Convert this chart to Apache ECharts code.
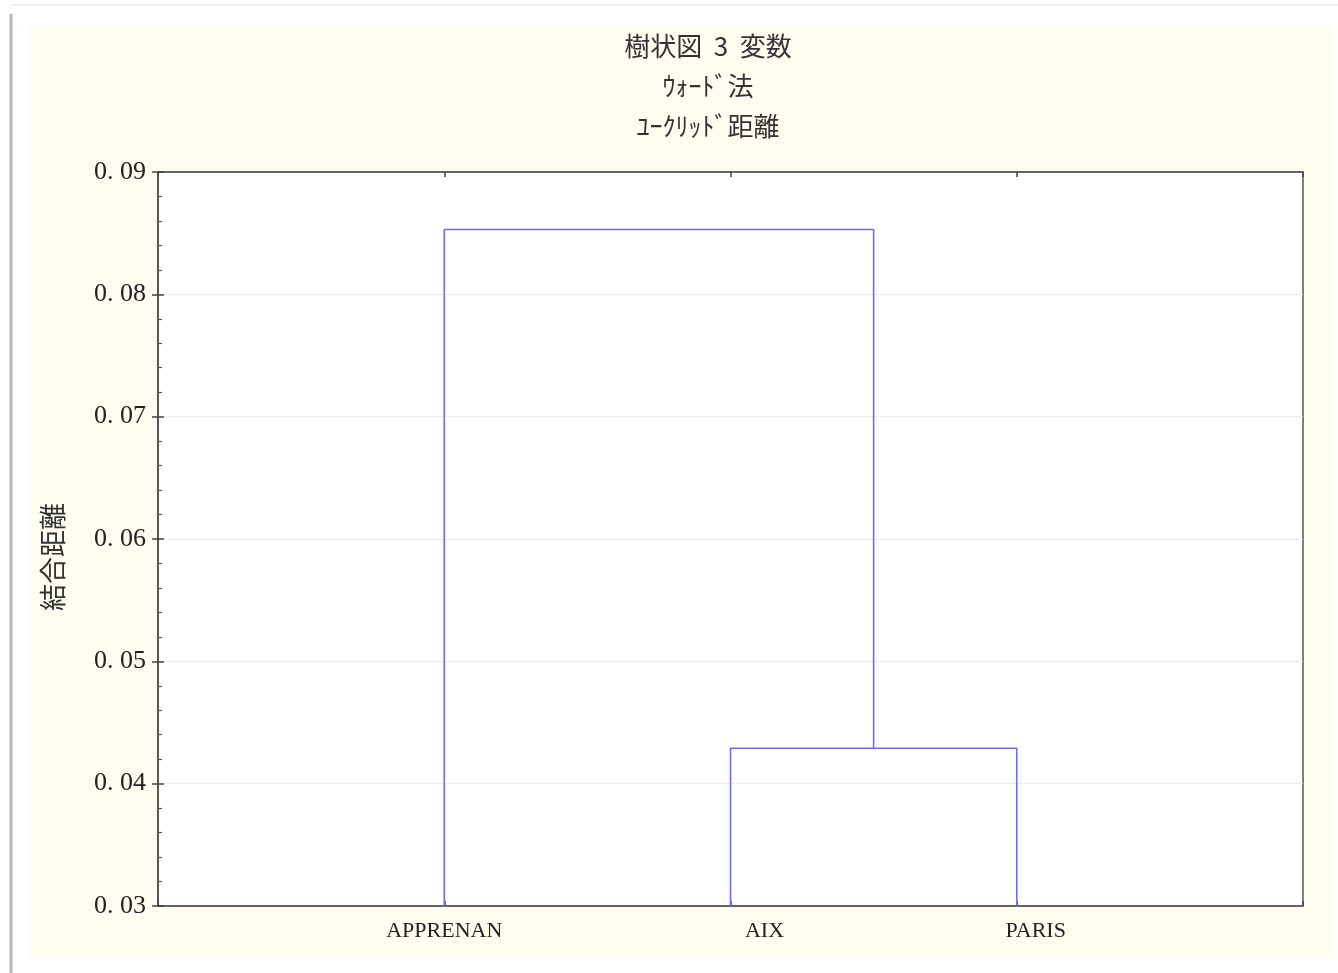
<!DOCTYPE html>
<html>
<head>
<meta charset="utf-8">
<script src="https://cdn.jsdelivr.net/npm/echarts@6/dist/echarts.min.js"></script>
<style>
html,body{margin:0;padding:0;background:#fff;}
#c{width:1338px;height:973px;}
</style>
</head>
<body>
<div id="c"></div>
<script>
// ---- data ----
const titleLines = ['樹状図  3  変数', 'ｳｫｰﾄﾞ法', 'ﾕｰｸﾘｯﾄﾞ距離'];
const yAxisName = '結合距離';
const leaves = ['APPRENAN', 'AIX', 'PARIS'];
const leafPositions = [1, 2, 3];
// merges: left member, right member (leaf name or '#k' for merge k), linkage height
const mergeLeft = ['AIX', 'APPRENAN'];
const mergeRight = ['PARIS', '#0'];
const mergeHeight = [0.0429, 0.0853];
const yTicks = [0.03, 0.04, 0.05, 0.06, 0.07, 0.08, 0.09];

// ---- build dendrogram segments ----
const yMin = yTicks[0], yMax = yTicks[yTicks.length - 1];
const nodePos = [], nodeH = [];
function resolve(m) {
  if (m.charAt(0) === '#') { const k = +m.slice(1); return [nodePos[k], nodeH[k]]; }
  const i = leaves.indexOf(m); return [leafPositions[i], yMin];
}
const series = [];
for (let k = 0; k < mergeHeight.length; k++) {
  const [xl, hl] = resolve(mergeLeft[k]);
  const [xr, hr] = resolve(mergeRight[k]);
  const h = mergeHeight[k];
  nodePos.push((xl + xr) / 2); nodeH.push(h);
  series.push({
    type: 'line', symbol: 'none', animation: false, silent: true,
    lineStyle: { color: '#6a6aff', width: 1.6 },
    data: [[xl, hl], [xl, h], [xr, h], [xr, hr]],
    z: 5
  });
}

const labelRich = { a: { padding: [0, 0, 0, 0] }, b: { padding: [0, 0, 0, 68] }, c: { padding: [0, 0, 0, 38] } };
const richKeys = ['a', 'b', 'c'];

const chart = echarts.init(document.getElementById('c'));
chart.setOption({
  backgroundColor: '#ffffff',
  animation: false,
  graphic: [
    { type: 'rect', shape: { x: 29, y: 25, width: 1304, height: 933 }, style: { fill: '#fffcf0' }, z: -10, silent: true },
    { type: 'line', shape: { x1: 11, y1: 14, x2: 11, y2: 973 }, style: { stroke: '#b8b8b8', lineWidth: 3 }, z: -9, silent: true },
    { type: 'line', shape: { x1: 11, y1: 5, x2: 1338, y2: 5 }, style: { stroke: '#eeeeee', lineWidth: 2 }, z: -9, silent: true }
  ],
  title: {
    text: titleLines.join('\n'),
    left: 703, top: 21, textAlign: 'center',
    textStyle: { fontFamily: 'Noto Sans CJK JP', fontSize: 26, fontWeight: 'normal', color: '#333', lineHeight: 40 }
  },
  grid: { left: 158, right: 35, top: 172, bottom: 67, show: true, backgroundColor: '#ffffff', borderColor: '#555', borderWidth: 1.5 },
  xAxis: [
    {
      type: 'value', min: 0, max: 4, interval: 1, position: 'bottom',
      axisLine: { show: true, lineStyle: { color: '#555', width: 1.5 } },
      axisTick: { show: true, inside: true, length: 5, lineStyle: { color: '#444', width: 1.5 } },
      splitLine: { show: false },
      axisLabel: {
        margin: 14, fontFamily: 'Liberation Serif', fontSize: 22, color: '#222',
        formatter: function (v) {
          const i = leafPositions.indexOf(v);
          return i < 0 ? '' : '{' + richKeys[i] + '|' + leaves[i] + '}';
        },
        rich: labelRich
      }
    },
    {
      type: 'value', min: 0, max: 4, interval: 1, position: 'top',
      axisLine: { show: true, lineStyle: { color: '#555', width: 1.5 } },
      axisTick: { show: true, inside: true, length: 5, lineStyle: { color: '#444', width: 1.5 } },
      splitLine: { show: false }, axisLabel: { show: false }
    }
  ],
  yAxis: [
    {
      type: 'value', min: yMin, max: yMax, interval: 0.01, position: 'left',
      name: yAxisName, nameLocation: 'middle', nameGap: 92, nameRotate: 90,
      nameTextStyle: { fontFamily: 'Noto Sans CJK JP', fontSize: 27, color: '#333', padding: [0, 36, 0, 0] },
      axisLine: { show: true, lineStyle: { color: '#555', width: 1.5 } },
      axisTick: { show: true, inside: true, length: 6, lineStyle: { color: '#444', width: 1.5 } },
      minorTick: { show: true, splitNumber: 5, length: 4, lineStyle: { color: '#555', width: 1.2 } },
      splitLine: { show: true, lineStyle: { color: '#d8d8d8', type: 'dotted', width: 1 } },
      axisLabel: {
        margin: 12, fontFamily: 'Liberation Serif', fontSize: 26, color: '#222',
        formatter: function (v) { return v.toFixed(2).replace('.', '. '); }
      }
    },
    {
      type: 'value', min: yMin, max: yMax, interval: 0.01, position: 'right',
      axisLine: { show: true, lineStyle: { color: '#555', width: 1.5 } },
      axisTick: { show: true, inside: true, length: 6, lineStyle: { color: '#444', width: 1.5 } },
      splitLine: { show: false }, axisLabel: { show: false }
    }
  ],
  series: series
});
</script>
</body>
</html>
